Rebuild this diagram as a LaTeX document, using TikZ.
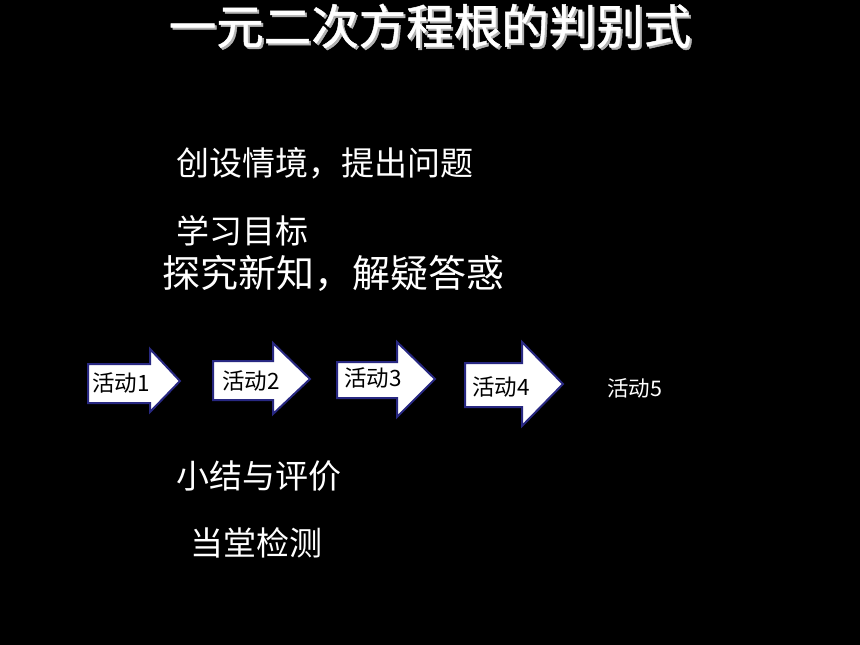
\documentclass[tikz,border=0pt]{standalone}
\usepackage{fontspec}
\setmainfont{Noto Sans CJK SC}
\newfontfamily\titlefont[FakeBold=1]{Noto Sans CJK SC}
\usepackage{tikz}

\definecolor{arrowblue}{RGB}{40,40,130}

\begin{document}
\begin{tikzpicture}[x=1pt,y=-1pt,
        topic/.style={text=white, anchor=west, inner sep=0pt, font=\fontsize{33}{40}\selectfont},
        act/.style={text=black, anchor=west, inner sep=0pt, font=\fontsize{22.5}{27}\selectfont},
        actarrow/.style={draw=arrowblue, fill=white, line width=2pt, line join=miter}]
        \fill[black] (0,0) rectangle (860,645);
        \useasboundingbox (0,0) rectangle (860,645);

        % title with shadow
        \node[text=gray!60, font=\titlefont\fontsize{47.5}{56}\selectfont] (title_sh) at (432,28) {一元二次方程根的判别式};
        \node[text=white, font=\titlefont\fontsize{47.5}{56}\selectfont]   (title)    at (430,26) {一元二次方程根的判别式};

        \node[topic] (q_sit)   at (176,163) {创设情境，提出问题};
        \node[topic] (q_goal)  at (176,231) {学习目标};
        \node[topic, font=\fontsize{38}{46}\selectfont] (q_exp) at (162,273) {探究新知，解疑答惑};
        \node[topic] (q_sum)   at (176,476) {小结与评价};
        \node[topic] (q_test)  at (190,543) {当堂检测};

        % activity arrows
        \draw[actarrow] (88,364) -- (150,364) -- (150,349) -- (180,381) -- (150,412) -- (150,403) -- (88,403) -- cycle;
        \draw[actarrow] (213,361) -- (273,361) -- (273,343) -- (310,379) -- (273,414) -- (273,400) -- (213,400) -- cycle;
        \draw[actarrow] (337,362) -- (397,362) -- (397,342) -- (435,379) -- (397,417) -- (397,398) -- (337,398) -- cycle;
        \draw[actarrow] (465,363) -- (522,363) -- (522,342) -- (563,384) -- (522,426) -- (522,407) -- (465,407) -- cycle;

        \node[act] (act_1) at (92,383) {活动1};
        \node[act] (act_2) at (222,381) {活动2};
        \node[act] (act_3) at (344,378) {活动3};
        \node[act] (act_4) at (472,387) {活动4};
        \node[act, text=white, font=\fontsize{21.5}{26}\selectfont] (act_5) at (607,388) {活动5};
\end{tikzpicture}
\end{document}
